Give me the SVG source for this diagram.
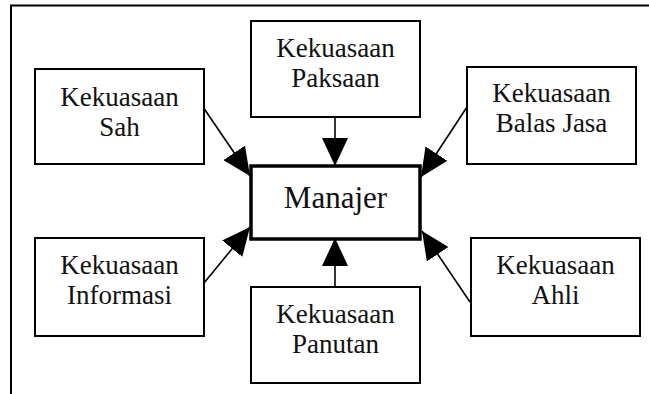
<svg xmlns="http://www.w3.org/2000/svg" width="649" height="394" viewBox="0 0 649 394">
<style>
.box{fill:#fff;stroke:#000;stroke-width:2}
.main{fill:#fff;stroke:#000;stroke-width:3.5}
text{font-family:'Liberation Serif','DejaVu Serif',Times,serif;fill:#111;text-anchor:middle}
.t{font-size:27px}
.tm{font-size:31px}
.c{stroke:#000;stroke-width:1.6;fill:none;marker-end:url(#ah)}
</style>
<defs>
<marker id="ah" markerUnits="userSpaceOnUse" markerWidth="28" markerHeight="26" refX="28" refY="13" orient="auto">
<path d="M0,0 L28,13 L0,26 z" fill="#000"/>
</marker>
</defs>
<rect width="649" height="394" fill="#fff"/>
<g id="frame" fill="none" stroke="#000" stroke-width="2">
<path d="M11,394 V5.5 H649"/>
</g>
<g id="connectors">
<line class="c" x1="335" y1="117" x2="335" y2="166"/>
<line class="c" x1="335" y1="287" x2="335" y2="238"/>
<line class="c" x1="203" y1="107" x2="250" y2="176"/>
<line class="c" x1="467" y1="107" x2="421" y2="177"/>
<line class="c" x1="204" y1="283" x2="250" y2="227"/>
<line class="c" x1="470" y1="302" x2="422" y2="231"/>
</g>
<g id="manajer">
<rect class="main" x="251" y="166" width="169" height="73"/>
<text class="tm" x="335.5" y="208" font-family="Liberation Serif, serif">Manajer</text>
</g>
<g id="sah">
<rect class="box" x="35" y="69" width="169" height="95"/>
<text class="t" x="119.5" y="106" font-family="Liberation Serif, serif">Kekuasaan</text>
<text class="t" x="119.5" y="136" font-family="Liberation Serif, serif">Sah</text>
</g>
<g id="paksaan">
<rect class="box" x="251" y="21" width="169" height="96"/>
<text class="t" x="335.5" y="57" font-family="Liberation Serif, serif">Kekuasaan</text>
<text class="t" x="335.5" y="87" font-family="Liberation Serif, serif">Paksaan</text>
</g>
<g id="balas-jasa">
<rect class="box" x="467" y="67" width="169" height="97"/>
<text class="t" x="551.5" y="102" font-family="Liberation Serif, serif">Kekuasaan</text>
<text class="t" x="551.5" y="132" font-family="Liberation Serif, serif">Balas Jasa</text>
</g>
<g id="informasi">
<rect class="box" x="35" y="238" width="169" height="98"/>
<text class="t" x="119.5" y="274" font-family="Liberation Serif, serif">Kekuasaan</text>
<text class="t" x="119.5" y="304" font-family="Liberation Serif, serif">Informasi</text>
</g>
<g id="panutan">
<rect class="box" x="251" y="287" width="169" height="96"/>
<text class="t" x="335.5" y="323" font-family="Liberation Serif, serif">Kekuasaan</text>
<text class="t" x="335.5" y="353" font-family="Liberation Serif, serif">Panutan</text>
</g>
<g id="ahli">
<rect class="box" x="471" y="238" width="169" height="98"/>
<text class="t" x="555.5" y="274" font-family="Liberation Serif, serif">Kekuasaan</text>
<text class="t" x="555.5" y="304" font-family="Liberation Serif, serif">Ahli</text>
</g>
</svg>
